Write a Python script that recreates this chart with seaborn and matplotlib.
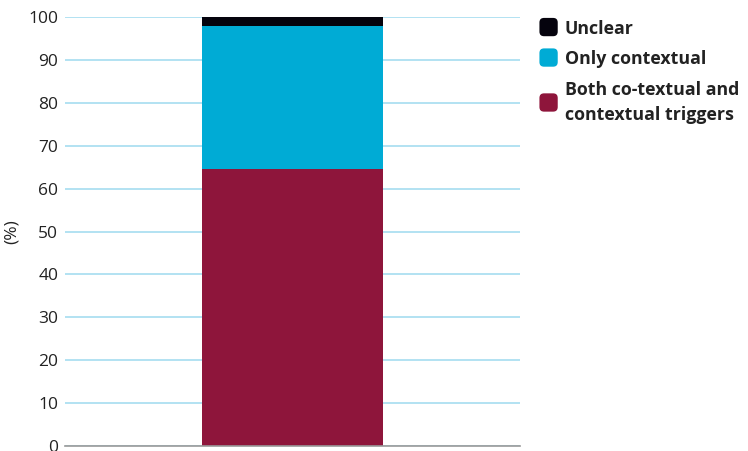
import matplotlib
matplotlib.use("Agg")
import matplotlib.pyplot as plt
import seaborn as sns
import pandas as pd
from matplotlib.patches import FancyBboxPatch, Patch
from matplotlib.legend_handler import HandlerPatch

# Share of responses (%) in one stacked column
categories = ["Both co-textual and\ncontextual triggers", "Only contextual", "Unclear"]
values = [64.5, 33.5, 2.0]
colors = ["#8E153B", "#00ABD5", "#05030D"]
yticks = [0, 10, 20, 30, 40, 50, 60, 70, 80, 90, 100]

sns.set_theme(style="white")
plt.rcParams["font.family"] = ["Open Sans", "DejaVu Sans"]

fig = plt.figure(figsize=(7.48, 4.51), dpi=100)
ax = fig.add_axes([0.087, 0.011, 0.608, 0.951])

# cumulative tops, drawn from the tallest down so each segment shows
tops = pd.Series(values).cumsum().tolist()
df = pd.DataFrame({"group": [""], "v": [0.0]})
for top, col in sorted(zip(tops, colors), key=lambda t: -t[0]):
    df["v"] = [top]
    sns.barplot(data=df, x="group", y="v", color=col, width=0.4,
                saturation=1, ax=ax, zorder=3, linewidth=0)

ax.set_xlim(-0.5, 0.5)
ax.set_ylim(0, 100)
ax.set_yticks(yticks)
ax.set_yticklabels([str(t) for t in yticks], fontsize=12.5, color="#222222")
ax.tick_params(axis="y", length=0, pad=5)
ax.set_xticks([])
ax.set_xlabel("")
ax.set_ylabel("(%)", fontsize=12.5, color="#222222", labelpad=6)
ax.yaxis.grid(True, color="#A6DDF0", linewidth=1.2, zorder=0)
for s in ["top", "right", "left"]:
    ax.spines[s].set_visible(False)
ax.spines["bottom"].set_color("#999999")
ax.spines["bottom"].set_linewidth(1.2)
ax.spines["bottom"].set_zorder(4)


class RoundedHandler(HandlerPatch):
    def create_artists(self, legend, orig_handle, xdescent, ydescent,
                       width, height, fontsize, trans):
        size = min(width, height) * 1.15
        x0 = -xdescent + (width - size) / 2
        y0 = -ydescent + height - size + size * 0.1
        p = FancyBboxPatch((x0 + size * 0.2, y0 + size * 0.2), size * 0.6, size * 0.6,
                           boxstyle=f"round,pad={size*0.2},rounding_size={size*0.25}",
                           facecolor=orig_handle.get_facecolor(), edgecolor="none",
                           transform=trans)
        return [p]


handles = [Patch(facecolor=c) for c in reversed(colors)]
labels = list(reversed(categories))
leg = fig.legend(handles, labels, loc="upper left", bbox_to_anchor=(0.712, 0.972),
                 frameon=False, handler_map={Patch: RoundedHandler()},
                 handlelength=1.0, handleheight=1.0, handletextpad=0.4,
                 labelspacing=0.7, borderaxespad=0,
                 prop={"family": ["Open Sans", "DejaVu Sans"], "weight": "bold", "size": 12.8})
for t in leg.get_texts():
    t.set_color("#222222")
    t.set_linespacing(1.5)

fig.savefig("out.png", dpi=100)
